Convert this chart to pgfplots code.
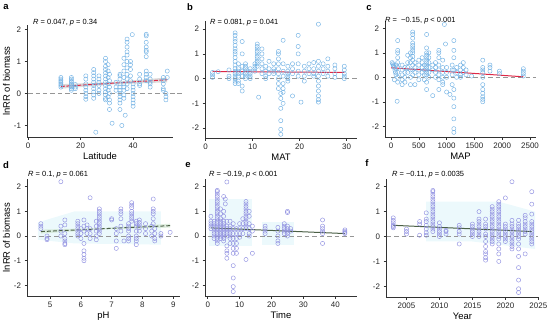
\documentclass[border=0pt]{standalone}
\usepackage{pgfplots}
\pgfplotsset{compat=1.18}
\usepackage{fontspec}
\setmainfont{Liberation Sans}
\definecolor{ptA}{RGB}{115,178,228}
\definecolor{ptB}{RGB}{145,145,225}
\definecolor{regR}{RGB}{222,40,70}
\definecolor{regG}{RGB}{75,95,70}
\definecolor{zeroL}{RGB}{150,150,150}
\definecolor{shade}{RGB}{236,249,252}
\pgfplotsset{
  panel/.style={scale only axis, clip=false,
    axis x line*=bottom, axis y line*=left,
    axis line style={line width=0.6pt, black!80},
    tick style={line width=0.5pt, black!80},
    tick align=outside, major tick length=2.5bp,
    ticklabel style={font=\fontsize{8}{9}\selectfont, text=black!85},
    label style={font=\fontsize{9.5}{11}\selectfont},
    xlabel style={yshift=3pt},
    ylabel style={yshift=-3pt},
    scaled ticks=false,
    /pgf/number format/assume math mode=true,
    /pgf/number format/1000 sep={},
  },
  ptsA/.style={only marks, mark=o, mark size=2.1pt, mark options={line width=0.45pt, draw=ptA}},
  ptsB/.style={only marks, mark=o, mark size=2.1pt, mark options={line width=0.45pt, draw=ptB}},
  zl/.style={zeroL, line width=0.8pt, dash pattern=on 4.5pt off 3pt},
}
\begin{document}
\begin{tikzpicture}[x=1bp,y=1bp]
\path[use as bounding box] (0,0) rectangle (550,322);

% ---------- a ----------
\begin{axis}[panel, at={(27bp,185bp)}, anchor=south west, width=146bp, height=112bp,
  xmin=-0.4, xmax=55.2, ymin=-1.36, ymax=2.14,
  xtick={0,20,40}, ytick={-1,0,1,2}, xlabel={Latitude}, ylabel={lnRR of biomass}]
\addplot[zl] coordinates {(0,0) (58.7,0)};
\addplot[ptsA] coordinates {
(12.5,0.5)(12.5,0.45)(12.5,0.4)(12.5,0.35)(12.5,0.3)(12.5,0.25)(12.5,0.2)
(16.5,0.5)(16.5,0.45)(16.5,0.4)(16.5,0.35)(16.5,0.3)(16.5,0.25)(16.5,0.2)(16.5,0.15)(16.5,0.1)
(18,0.28)(18,0.2)(18,0.15)
(22,0.55)(22,0.45)(22,0.3)(22,0.2)(22,0.1)(22,0)(22,-0.1)(22,-0.18)
(25,0.75)(25,0.65)(25,0.55)(25,0.45)(25,0.35)(25,0.25)(25,0.15)(25,0.05)(25,-0.05)(25,-0.15)(25.8,-1.21)
(27,0.55)(27,0.45)(27,0.35)(27,0.25)(27,0.1)(27,0)
(29.5,1.1)(29.5,1.0)(29.5,0.85)(29.5,0.75)(29.5,0.65)(29.5,0.55)(29.5,0.45)(29.5,0.35)(29.5,0.25)(29.5,0.15)(29.5,0.05)(29.5,-0.05)(29.5,-0.15)(29.5,-0.2)
(30.5,0.9)(30.5,0.7)(30.5,0.5)(30.5,0.3)(30.5,0.1)(30.5,-0.1)
(31,0.6)(31,0.4)(31,0.2)(31,0)(31,-0.2)(31,-0.3)(31,-0.5)
(32,-0.93)
(33.5,0.35)(33.5,0.2)(33.5,0.1)
(35,0.6)(35,0.55)(35,0.45)(35,0.3)(35,0.2)(35,0.1)(35,0)(35,-0.1)(35,-0.2)(35,-0.3)(35,-0.5)
(35.7,-1.0)
(36.5,1.1)(36.5,0.9)(36.5,0.7)(36.5,0.5)(36.5,0.3)(36.5,0.2)(36.5,0.1)(36.5,-0.05)(36.5,-0.15)(37,-0.68)
(37.7,1.7)(37.7,1.6)(37.7,1.45)(37.7,1.3)(37.7,1.2)(37.7,1.0)(37.7,0.8)(37.7,0.6)(37.7,0.45)(37.7,0.3)(37.7,0.15)
(39,1.0)(39,0.9)(39,0.75)(39,0.55)(39,0.4)(39.7,1.84)
(40,0.3)(40,0.2)(40,0.1)(40,0)(40,-0.1)(40,-0.2)(40,-0.3)(40,-0.4)
(42.5,0.6)(42.5,0.45)(42.5,0.3)(42.5,0.25)
(45,1.85)(45,1.8)(45,1.6)(45,1.45)(45,1.35)(45,1.3)(45,1.15)(45,0.7)(45,0.6)(45,0.5)(45,0.4)
(46.5,0.6)(46.5,0.45)(46.5,0.35)(46.5,0.3)(46.5,0.2)
(51.5,0.5)(51.5,0.4)(51.5,0.3)(51.5,0.15)(51.5,0.1)(52.5,0)(52.5,-0.1)(52.5,-0.2)(53,0.7)(53,0.5)
};
\addplot[fill=gray!35, draw=none, opacity=0.8] coordinates {(12.5,0.15)(32,0.28)(53,0.35)(53,0.50)(32,0.36)(12.5,0.29)} -- cycle;
\addplot[regR, line width=1pt, dash pattern=on 4pt off 1.5pt] coordinates {(12.5,0.22)(53,0.43)};
\end{axis}

% ---------- b ----------
\begin{axis}[panel, at={(205bp,184bp)}, anchor=south west, width=152bp, height=117bp,
  xmin=-0.1, xmax=32.2, ymin=-2.4, ymax=2.33,
  xtick={0,10,20,30}, ytick={-2,-1,0,1,2}, xlabel={MAT}]
\addplot[zl] coordinates {(1,0) (32.2,0)};
\addplot[ptsA] coordinates {
(1.5,0.25)(1.5,0.15)(1.5,0.05)(2.7,0.28)
(5,0.35)(5,0.1)(5,0.0)
(6.3,1.85)(6.3,1.75)(6.3,1.6)(6.3,1.5)(6.3,1.35)(6.3,1.2)(6.3,1.1)(6.3,1.0)(6.3,0.85)(6.3,0.7)(6.3,0.55)(6.3,0.4)(6.3,0.3)(6.3,0.2)(6.3,0.1)(6.3,0.0)(6.3,-0.1)(6.3,-0.2)
(7,0.6)(7,0.4)(7,0.3)(7,0.2)(7,0.1)(7,-0.1)(7,-0.2)
(7.8,1.5)(7.8,1.0)(7.8,0.5)(7.8,0.3)(7.8,0.1)(7.8,-0.3)(7.8,-0.5)
(8.5,0.6)(8.5,0.5)(8.5,0.4)(8.5,0.3)(8.5,0.2)(8.5,0.1)(8.5,0.0)
(9.5,0.4)(9.5,0.3)(9.5,0.2)(9.5,0.1)(9.5,0.0)
(10.5,0.6)(10.5,0.5)(10.5,0.4)(10.5,0.3)
(11,1.4)(11,1.3)(11,1.2)(11,1.1)(11,1.0)(11,0.9)(11,0.8)(11,0.7)(11,0.6)(11,0.5)(11.3,-0.75)
(12,1.2)(12,1.0)(12,0.8)(12,0.6)(12,0.4)(12,0.2)
(12.8,0.5)(12.8,0.3)(12.8,0.1)(12.8,0.0)
(13.5,0.7)(13.5,0.4)(13.5,0.2)
(14.5,0.6)(14.5,0.4)(14.5,0.3)(14.5,0.2)
(15.5,1.1)(15.5,1.0)(15.5,0.8)(15.5,0.6)(15.5,0.4)(15.5,0.2)(15.5,0.0)(15.5,-0.2)(15.5,-0.4)
(16,-0.6)(16,-0.8)(16,-1.2)(16,-1.7)(16,-2.05)(16,-2.25)
(16.5,1.55)(16.5,0.6)(16.5,0.3)(16.5,0.1)(16.5,-0.2)(16.5,-0.4)(16.5,-0.55)(16.5,-1.0)
(17.5,0.5)(17.5,0.3)(17.5,0.2)(17.5,0.1)(17.5,0.0)(17.5,-0.1)
(18.5,0.6)(18.5,0.4)(18.5,0.2)(18.5,-0.7)
(19.7,1.75)(19.7,1.3)(19.7,1.0)(19.7,0.6)(19.7,0.3)(19.7,0.1)(20.3,-0.95)
(21,0.5)(21,0.3)(21,0.1)(21,-0.1)
(22,0.6)(22,0.4)(22,0.2)
(23,0.65)(23,0.4)(23,0.2)(23,0.1)
(24,2.2)(24,0.7)(24,0.5)(24,0.3)(24,0.1)(24,-0.1)(24,-0.3)(24,-0.5)(24,-0.7)(24,-0.85)(24,-0.95)
(25,0.6)(25,0.4)(25,0.2)
(26,0.8)(26,0.5)(26,0.3)(26,0.1)
(27.5,0.55)(27.5,0.4)(27.5,0.2)(27.5,0.05)
(29.5,0.5)(29.5,0.35)(29.5,0.2)(29.5,0.1)(29.5,0.0)
};
\addplot[regR, line width=1pt] coordinates {(1.5,0.29)(29.5,0.25)};
\end{axis}

% ---------- c ----------
\begin{axis}[panel, at={(385bp,185bp)}, anchor=south west, width=151bp, height=116bp,
  xmin=-108, xmax=2608, ymin=-2.44, ymax=2.3,
  xtick={0,500,1000,1500,2000,2500}, ytick={-2,-1,0,1,2}, xlabel={MAP}]
\addplot[zl] coordinates {(0,0) (2600,0)};
\addplot[ptsA] coordinates {
(20,0.6)(30,0.55)(40,0.5)(50,0.45)(60,0.4)(70,0.3)(80,0.2)(90,0.1)(60,-0.1)(100,0.5)
(120,1.5)(120,1.1)(120,1.0)(120,0.8)(120,0.6)(120,0.4)(120,0.2)(120,0.0)(120,-0.2)(110,-0.98)
(200,0.5)(200,0.3)(200,0.1)(200,-0.1)(200,-0.3)
(250,0.4)(250,0.2)(250,0.0)(250,-0.2)
(300,0.9)(300,0.6)(300,0.4)(300,0.2)
(350,1.0)(350,0.8)(350,0.6)(350,0.3)(350,0.0)(350,-0.3)
(390,1.85)(390,1.75)(390,1.6)(390,1.4)(390,1.3)(390,1.2)(390,1.1)(390,1.0)(390,0.85)(390,0.7)(390,0.5)(390,0.3)(390,0.1)
(430,0.6)(430,0.4)(430,0.2)(430,-0.3)
(500,0.7)(500,0.5)(500,0.3)(500,0.1)(500,-0.1)
(560,0.8)(560,0.6)(560,0.4)(560,0.2)
(600,0.5)(600,0.3)(600,0.1)(600,-0.1)
(640,1.75)(640,1.2)(640,1.0)(640,0.9)(640,0.8)(640,0.7)(640,0.6)(640,0.5)(640,0.4)(640,0.3)(640,0.2)(640,0.1)(640,-0.2)(640,-0.5)
(680,1.0)(680,0.8)(680,0.6)(680,0.4)(680,0.2)(680,0.0)
(750,-0.75)(750,0.5)(750,0.3)
(800,0.6)(800,0.4)(800,0.2)(800,0.0)
(860,1.1)(860,1.0)(860,0.8)(860,0.5)(860,0.3)(860,0.1)(860,-0.1)(860,-0.5)
(930,0.7)(930,0.4)(930,0.2)(930,0.0)(930,-0.2)(930,-0.3)
(960,2.16)(980,1.36)
(1000,0.4)(1000,0.2)(1000,0.0)(1000,-0.6)(1060,-0.7)
(1100,0.5)(1100,0.3)(1100,0.1)(1100,-0.3)
(1130,1.5)(1130,1.1)(1130,0.8)(1130,0.3)(1130,-0.5)(1130,-0.85)(1130,-1.2)(1130,-1.7)(1130,-2.1)(1130,-2.25)
(1180,0.4)(1180,0.2)(1180,0.0)
(1250,0.5)(1250,0.3)(1250,0.1)(1250,0.0)
(1300,0.6)(1300,0.4)(1300,0.2)
(1350,0.3)(1350,0.1)(1450,0.05)
(1650,0.7)(1650,0.4)(1650,0.3)(1650,0.2)(1650,0.0)(1650,-0.3)(1650,-0.5)(1650,-0.65)(1650,-0.8)(1650,-0.9)(1650,-1.0)
(1780,0.5)(1780,0.4)(1780,0.25)
(1950,0.25)(1950,0.15)
(2380,0.35)(2380,0.25)(2380,0.15)(2380,0.05)
};
\addplot[regR, line width=1pt] coordinates {(0,0.39)(2380,0.02)};
\end{axis}

% ---------- d ----------
\begin{axis}[panel, at={(27bp,26bp)}, anchor=south west, width=153bp, height=117bp,
  xmin=4.25, xmax=9.22, ymin=-2.43, ymax=2.31,
  xtick={5,6,7,8,9}, ytick={-2,-1,0,1,2}, xlabel={pH}, ylabel={lnRR of biomass}]
\addplot[fill=shade, draw=none] coordinates {(4.6,-0.15)(5.8,-0.3)(8.6,-0.35)(8.6,1.0)(5.8,1.0)(4.6,0.55)} -- cycle;
\addplot[zl] coordinates {(4.4,0) (9.2,0)};
\addplot[ptsB] coordinates {
(4.7,0.5)(4.7,0.4)(4.7,0.3)
(4.9,0.0)(4.9,-0.1)(4.9,-0.15)
(5.35,2.2)(5.35,0.4)(5.35,0.2)(5.35,0.0)
(5.48,0.65)(5.48,0.45)(5.48,0.1)(5.48,-0.1)(5.48,-0.2)(5.48,-0.3)(5.48,-0.35)
(5.9,0.6)(5.9,0.5)(5.9,0.4)(5.9,0.3)(5.9,0.2)(5.9,0.1)(5.9,0.0)
(6.0,0.3)(6.0,0.1)(6.0,-0.1)
(6.1,0.65)(6.1,0.4)(6.1,0.2)(6.1,-0.3)(6.1,-0.6)(6.1,-0.75)(6.1,-0.9)(6.1,-1.0)
(6.2,0.45)(6.2,0.3)(6.2,0.1)
(6.3,1.55)(6.3,0.3)(6.3,0.1)(6.3,-0.1)
(6.5,0.6)(6.5,0.4)(6.5,0.2)(6.5,0.0)(6.5,-0.15)
(6.6,1.1)(6.6,1.0)(6.6,0.9)(6.6,0.8)(6.6,0.7)(6.6,0.6)(6.6,0.5)(6.6,0.4)(6.6,0.3)(6.6,0.2)(6.6,0.1)
(7.0,0.7)(7.0,0.65)
(7.15,0.3)(7.15,0.1)(7.15,-0.2)(7.15,-0.5)
(7.3,1.1)(7.3,1.0)(7.3,0.9)(7.3,0.7)(7.3,0.4)(7.3,0.2)(7.4,-0.2)
(7.55,0.5)(7.55,0.4)(7.55,0.3)(7.55,0.2)(7.55,0.0)(7.55,-0.1)(7.55,-0.2)
(7.65,1.35)(7.65,1.25)(7.65,1.15)(7.65,1.0)(7.65,0.9)(7.65,0.8)(7.65,0.7)(7.65,0.6)
(7.8,0.6)(7.8,0.5)(7.8,0.4)(7.8,0.2)(7.8,0.0)(7.8,-0.1)(7.8,-0.2)(7.8,-0.35)
(7.9,0.65)(7.9,0.55)(7.9,0.45)(7.9,0.35)(7.9,0.2)
(8.1,0.5)(8.1,0.3)(8.1,0.1)
(8.3,0.4)(8.3,0.2)(8.3,0.0)
(8.35,1.5)(8.35,1.1)(8.35,1.0)(8.35,0.9)(8.35,0.7)(8.35,0.5)
(8.4,0.3)(8.4,0.1)(8.4,-0.1)(8.4,-0.2)
(8.6,0.1)(8.6,0.0)(8.9,0.15)
};
\addplot[fill=green!30!gray!30, draw=none, opacity=0.6] coordinates {(4.7,0.1)(6.8,0.27)(8.9,0.34)(8.9,0.5)(6.8,0.33)(4.7,0.26)} -- cycle;
\addplot[regG, line width=1pt, dash pattern=on 4pt off 2pt] coordinates {(4.7,0.18)(8.9,0.42)};
\end{axis}

% ---------- e ----------
\begin{axis}[panel, at={(205bp,26bp)}, anchor=south west, width=152bp, height=117bp,
  xmin=-0.85, xmax=46.8, ymin=-2.43, ymax=2.31,
  xtick={0,10,20,30,40}, ytick={-2,-1,0,1,2}, xlabel={Time}]
\addplot[fill=shade, draw=none] coordinates {(0.5,-0.4)(14,-0.4)(14,1.5)(0.5,1.5)} -- cycle;
\addplot[fill=shade, draw=none] coordinates {(17,-0.35)(27,-0.35)(27,0.55)(17,0.55)} -- cycle;
\addplot[zl] coordinates {(0,0) (46.8,0)};
\addplot[ptsB] coordinates {
(1,0.8)(1,0.6)(1,0.5)(1,0.4)(1,0.3)
(2,0.6)(2,0.5)(2,0.4)(2,0.3)(2,0.2)(2,0.1)(2,0.0)(2,-0.1)
(3,1.85)(3,1.8)(3,1.7)(3,1.6)(3,1.5)(3,1.4)(3,1.3)(3,1.2)(3,1.1)(3,1.0)(3,0.9)(3,0.8)(3,0.7)(3,0.6)(3,0.5)(3,0.4)(3,0.3)(3,0.2)(3,0.1)(3,0.0)(3,-0.1)(3,-0.2)(3,-0.3)
(4,1.1)(4,0.9)(4,0.7)(4,0.6)(4,0.5)(4,0.4)(4,0.3)(4,0.2)(4,0.1)(4,0.0)(4,-0.1)
(5,1.6)(5,1.0)(5,0.8)(5,0.6)(5,0.5)(5,0.4)(5,0.3)(5,0.2)(5,0.1)(5,0.0)(5,-0.1)(5,-0.2)
(5.5,1.5)(5.5,1.3)
(6,2.19)(6,0.6)(6,0.4)(6,0.3)(6,0.2)(6,0.1)(6,0.0)(6,-0.4)(6,-0.6)(6,-0.7)(6,-0.9)
(7,0.6)(7,0.4)(7,0.3)(7,0.2)(7,0.1)(7,0.0)(7,-0.1)(7,-0.3)
(8,0.5)(8,0.3)(8,0.1)(8,-0.1)(8,-0.3)(8,-0.5)(8,-0.7)(8,-1.2)(8,-1.7)(8,-2.05)(8,-2.25)
(9,0.3)(9,0.1)(9,-0.1)(9,-0.3)(9,-0.5)(9,-0.7)
(10,0.5)(10,0.3)(10,0.1)(10,-0.05)
(11,0.7)(11,0.5)(11,0.3)(11,0.1)
(12,1.4)(12,1.3)(12,1.2)(12,1.1)(12,1.0)(12,0.9)(12,0.8)(12,0.7)(12,0.6)(12,0.5)(12,0.4)(12,0.3)(12,-0.95)
(13,1.0)(13,0.8)(13,0.5)(13,0.3)(13,0.1)(13,0.0)
(14,0.4)(14,0.2)(14,-0.7)
(18,0.4)(18,0.3)(18,0.2)(18,0.1)
(22,0.35)(22,0.2)(22,0.0)(22,-0.2)(22,-0.3)
(24,0.5)(24,0.4)(24,0.3)(24,0.2)(24,0.1)
(25,1.0)(25,0.95)(25,0.4)(25,0.3)(25,0.2)(25,0.1)(25,0.0)
(26,0.3)(26,0.2)
(36,0.65)(36,0.4)(36,0.3)(36,0.2)(36,0.1)(36,-0.3)
(43,0.25)(43,0.2)(43,0.15)(43,0.1)
};
\addplot[regG, line width=1pt] coordinates {(1,0.33)(43,0.1)};
\end{axis}

% ---------- f ----------
\begin{axis}[panel, at={(386bp,25bp)}, anchor=south west, width=153bp, height=118bp,
  xmin=2001.9, xmax=2025.1, ymin=-2.43, ymax=2.31,
  xtick={2005,2010,2015,2020,2025}, ytick={-2,-1,0,1,2}, xlabel={Year}]
\addplot[fill=shade, draw=none] coordinates {(2008,-0.2)(2015,-0.2)(2024.5,-0.5)(2024.5,1.0)(2019,1.4)(2008,1.4)} -- cycle;
\addplot[zl] coordinates {(2002,0) (2025,0)};
\addplot[ptsB] coordinates {
(2003,0.75)(2003,0.65)(2003,0.55)(2003,0.45)(2003,0.4)(2003,0.35)
(2005,0.3)(2005,0.2)(2005,0.1)
(2007,0.6)(2007,0.5)(2007,0.05)
(2008,0.95)(2008,0.7)(2008,0.6)(2008,0.45)(2008,0.3)(2008,0.15)(2008,0.05)
(2009,1.85)(2009,1.8)(2009,1.7)(2009,1.6)(2009,1.5)(2009,1.4)(2009,1.3)(2009,1.2)(2009,1.1)(2009,1.0)(2009,0.9)(2009,0.8)(2009,0.7)(2009,0.6)(2009,0.5)(2009,0.4)(2009,0.3)(2009,0.2)
(2010,0.55)(2010,0.4)(2010,0.3)(2010,0.2)(2010,0.1)(2010,0.0)
(2011,0.25)(2011,0.2)(2011,0.1)
(2013,0.45)(2013,0.35)(2013,0.2)(2013,0.1)(2013,-0.3)
(2015,0.5)(2015,0.4)(2015,0.3)(2015,0.2)(2015,0.1)(2015,0.0)
(2016,1.0)(2016,0.7)(2016,0.6)(2016,0.5)(2016,0.4)(2016,0.3)(2016,0.2)(2016,0.1)(2016,0.0)
(2017,0.7)(2017,0.5)(2017,0.4)(2017,0.3)(2017,0.1)(2017,0.0)(2017,-0.2)(2017,-0.4)(2017,-0.6)(2017,-0.7)(2017,-0.85)(2017,-0.95)
(2018,1.2)(2018,1.1)(2018,1.0)(2018,0.9)(2018,0.8)(2018,0.7)(2018,0.6)(2018,0.5)(2018,0.4)(2018,0.3)(2018,0.2)(2018,0.1)(2018,0.0)(2018,-0.1)(2018,-0.2)(2018,-0.3)
(2019,1.4)(2019,1.3)(2019,1.2)(2019,1.1)(2019,1.0)(2019,0.9)(2019,0.8)(2019,0.7)(2019,0.6)(2019,0.5)(2019,0.4)(2019,0.3)(2019,0.2)(2019,0.1)(2019,0.0)(2019,-0.1)(2019,-0.3)(2019,-0.5)(2019,-0.7)(2019,-1.0)
(2020,1.55)(2020,0.5)(2020,0.4)(2020,0.3)(2020,0.2)(2020,0.1)(2020,0.0)(2020,-0.1)(2020,-0.2)
(2021,2.2)(2021,0.65)(2021,0.5)(2021,0.4)(2021,0.3)(2021,0.2)(2021,0.1)(2021,0.0)(2021,-0.1)(2021,-0.2)(2021,-0.3)(2021,-0.4)(2021,-0.5)
(2022,0.65)(2022,0.5)(2022,0.4)(2022,0.3)(2022,0.2)(2022,0.1)(2022,0.0)(2022,-0.1)(2022,-0.3)(2022,-0.5)(2022,-0.8)(2022,-1.25)(2022,-1.75)(2022,-2.1)(2022,-2.25)
(2023,0.85)(2023,0.75)(2023,0.6)(2023,0.5)(2023,0.4)(2023,0.3)(2023,0.2)(2023,0.1)(2023,-0.7)
(2024,1.8)(2024,1.3)(2024,0.9)(2024,0.6)(2024,0.5)(2024,0.4)(2024,0.3)(2024,0.2)(2024,0.1)(2024,0.0)(2024,-0.1)(2024,-0.2)(2024,-0.3)
};
\addplot[regG, line width=1pt] coordinates {(2003,0.45)(2024,0.2)};
\end{axis}

% ---------- annotations ----------
\begin{scope}[every node/.style={font=\fontsize{7.5}{9}\selectfont, anchor=west, inner sep=0pt}]
\node at (33,299) {\textit{R} = 0.047, \textit{p} = 0.34};
\node at (210,299) {\textit{R} = 0.081, \textit{p} = 0.041};
\node at (385,301) {\textit{R} = \ −0.15, \textit{p} < 0.001};
\node at (28,147) {\textit{R} = 0.1, \textit{p} = 0.061};
\node at (209,147) {\textit{R} = −0.19, \textit{p} < 0.001};
\node at (392,147) {\textit{R} = −0.11, \textit{p} = 0.0035};
\end{scope}
\begin{scope}[every node/.style={font=\fontsize{9.5}{11}\selectfont\bfseries, inner sep=0pt}]
\node at (6,315) {a};
\node at (190,315) {b};
\node at (369,314) {c};
\node at (6,157) {d};
\node at (188,157) {e};
\node at (367,159) {f};
\end{scope}
\end{tikzpicture}
\end{document}
